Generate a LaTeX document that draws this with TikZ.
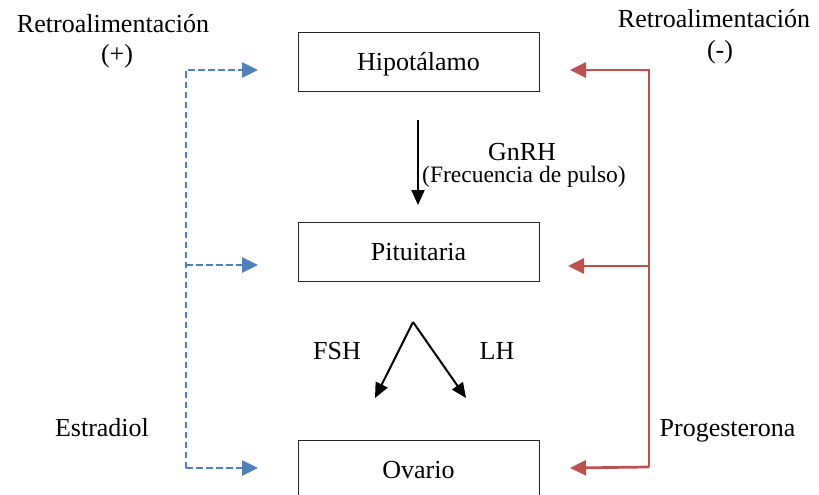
\documentclass[tikz,border=0pt]{standalone}
\usepackage{fontspec}
\setmainfont{Liberation Serif}
\usetikzlibrary{arrows.meta}
\definecolor{fbblue}{RGB}{79,129,189}
\definecolor{fbred}{RGB}{192,80,77}

\begin{document}
\begin{tikzpicture}[line join=miter,>={Triangle[length=16pt,width=15pt]},x=1pt,y=-1pt,
  organ/.style={draw=black!85,line width=0.8pt,minimum width=241pt,minimum height=59pt,
    text height=17pt,text depth=0pt,inner sep=0pt,font=\fontsize{26}{30}\selectfont},
  lbl/.style={anchor=base,inner sep=0pt,font=\fontsize{26}{30}\selectfont},
  sublbl/.style={anchor=base,inner sep=0pt,font=\fontsize{23.5}{28}\selectfont},
  posfb/.style={draw=fbblue,line width=2.6pt,dash pattern=on 6.5pt off 3.5pt},
  negfb/.style={draw=fbred,line width=2.7pt},
  hormone/.style={draw=black,line width=2pt,>={Triangle[length=15pt,width=13pt]}}]
\useasboundingbox (0,0) rectangle (819,495);
\clip (0,0) rectangle (819,495);
% organs
\node[organ] (hipo) at (418.5,62) {Hipotálamo};
\node[organ] (pitu) at (418.5,252) {Pituitaria};
\node[organ] (ova) at (418.5,469.5) {Ovario};
% labels
\node[lbl] (retroP) at (113,33) {Retroalimentación};
\node[lbl] (plus) at (117,63) {(+)};
\node[lbl] (retroN) at (714,27.5) {Retroalimentación};
\node[lbl] (minus) at (720,58.5) {(-)};
\node[lbl] (estr) at (102,436.5) {Estradiol};
\node[lbl] (prog) at (727.5,436) {Progesterona};
\node[lbl] (gnrh) at (522,160) {GnRH};
\node[sublbl] (pulso) at (524,182.5) {(Frecuencia de pulso)};
\node[lbl] (fsh) at (337,359) {FSH};
\node[lbl] (lh) at (497,359) {LH};
% feedback (+)
\coordinate (ptop) at (186,70);
\coordinate (pmid) at (186,265);
\coordinate (pbot) at (186,468);
\coordinate (pH) at (258,70);
\coordinate (pP) at (258,265);
\coordinate (pO) at (258,468);
\draw[posfb,->] (pbot) -- (ptop) -- (pH);
\draw[posfb,->] (pmid) -- (pP);
\draw[posfb,->] (pbot) -- (pO);
% feedback (-)
\coordinate (ntop) at (649,70);
\coordinate (nmid) at (649,266);
\coordinate (nbot) at (649,467);
\coordinate (nH) at (570,70);
\coordinate (nP) at (568,266);
\coordinate (nO) at (570,468);
\draw[negfb,->] (nbot) -- (ntop) -- (nH);
\draw[negfb,->] (nmid) -- (nP);
\draw[negfb,->] (nbot) -- (nO);
% hormones
\coordinate (gA) at (418,120);
\coordinate (gB) at (418,205);
\draw[hormone,->] (gA) -- (gB);
\coordinate (apex) at (413,322);
\coordinate (fshT) at (375,398);
\coordinate (lhT) at (466,398);
\draw[hormone,->] (apex) -- (fshT);
\draw[hormone,->] (apex) -- (lhT);
\end{tikzpicture}
\end{document}
